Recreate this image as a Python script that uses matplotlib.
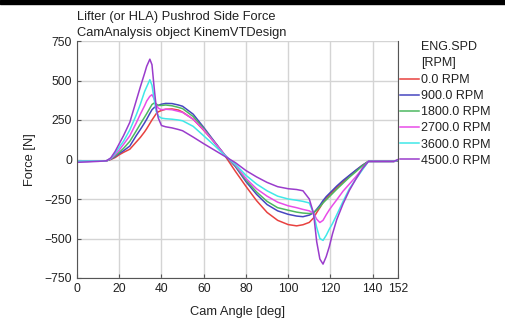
import matplotlib
matplotlib.use("Agg")
import matplotlib.pyplot as plt
from matplotlib.patches import Rectangle

plt.rcParams['font.family'] = ['Liberation Sans', 'DejaVu Sans']

# cam angle grid [deg]
angle = [0, 5, 10, 14, 16, 18, 20, 22, 25, 28,
         30, 32, 33, 34.5, 35.5, 36.5, 37.5, 38.5, 40, 42,
         45, 48, 50, 55, 60, 65, 70, 75, 80, 85,
         90, 95, 100, 104, 107, 110, 112, 113.5, 115, 116.5,
         118, 119.5, 121, 123, 126, 129, 132, 135, 138, 145,
         150, 152]

rpm_0 = [-10, -10, -10, -8, 0, 12, 30, 45, 65, 110,
         140, 175, 195, 228, 250, 270, 290, 302, 310, 318,
         320, 313, 300, 255, 185, 110, 25, -75, -170, -260,
         -335, -385, -412, -420, -413, -398, -370, -336, -305, -272,
         -245, -225, -205, -178, -140, -103, -70, -38, -12, -12,
         -12, -10]
rpm_900 = [-12, -12, -10, -8, 2, 18, 38, 55, 85, 150,
           190, 232, 255, 292, 315, 328, 337, 343, 350, 355,
           354, 345, 337, 287, 203, 115, 28, -45, -140, -220,
           -285, -325, -347, -358, -362, -352, -338, -315, -290, -260,
           -235, -215, -195, -168, -132, -100, -68, -38, -12, -12,
           -12, -8]
rpm_1800 = [-10, -10, -10, -8, 3, 22, 45, 70, 115, 180,
            225, 268, 290, 325, 348, 357, 352, 342, 342, 345,
            340, 330, 322, 272, 195, 110, 27, -40, -130, -205,
            -265, -305, -321, -333, -339, -342, -338, -320, -300, -275,
            -255, -235, -215, -188, -150, -112, -78, -42, -12, -12,
            -12, -8]
rpm_2700 = [-10, -10, -10, -8, 5, 30, 60, 95, 150, 230,
            287, 340, 370, 400, 410, 385, 345, 325, 315, 318,
            315, 305, 298, 255, 188, 110, 28, -35, -120, -185,
            -232, -270, -293, -305, -316, -325, -340, -378, -399, -385,
            -350, -318, -290, -255, -200, -155, -110, -60, -12, -12,
            -12, -5]
rpm_3600 = [-10, -10, -10, -8, 8, 40, 78, 115, 187, 280,
            350, 430, 460, 505, 470, 385, 305, 275, 262, 258,
            255, 250, 245, 210, 150, 90, 25, -30, -100, -155,
            -198, -232, -250, -258, -265, -275, -340, -430, -500, -512,
            -480, -440, -405, -350, -265, -185, -125, -68, -12, -12,
            -12, -3]
rpm_4500 = [-18, -15, -12, -8, 10, 50, 100, 150, 235, 370,
            460, 545, 590, 635, 600, 460, 330, 262, 215, 207,
            200, 190, 182, 142, 100, 60, 20, -20, -70, -110,
            -145, -172, -185, -190, -198, -250, -340, -520, -630, -662,
            -615, -550, -470, -380, -280, -195, -125, -60, -12, -12,
            -12, 0]

series = [rpm_0, rpm_900, rpm_1800, rpm_2700, rpm_3600, rpm_4500]
labels = ["0.0 RPM", "900.0 RPM", "1800.0 RPM", "2700.0 RPM", "3600.0 RPM", "4500.0 RPM"]
colors = ["#e8413f", "#4646c0", "#4db860", "#e84de8", "#40e8e8", "#9a3ccc"]

x_ticks = [0, 20, 40, 60, 80, 100, 120, 140, 152]
y_ticks = [-750, -500, -250, 0, 250, 500, 750]

TXT = "#222222"

fig = plt.figure(figsize=(5.05, 3.21), dpi=100)
fig.patches.append(Rectangle((0, 1 - 3.5 / 321), 1, 3.5 / 321, transform=fig.transFigure,
                             color="black", zorder=10))
ax = fig.add_axes([77 / 505, 1 - 278 / 321, (398 - 77) / 505, (278 - 41) / 321])

for vals, lab, c in zip(series, labels, colors):
    ax.plot(angle, vals, color=c, lw=1.1, label=lab)

ax.set_xlim(0, 152)
ax.set_ylim(-750, 750)
ax.set_xticks(x_ticks)
ax.set_yticks(y_ticks)
ax.grid(True, color="#d4d4d4", lw=1.0)
ax.set_axisbelow(True)
ax.tick_params(direction="in", length=3, color="#555555", labelsize=8.7, labelcolor=TXT)
for s in ("left", "bottom", "right"):
    ax.spines[s].set_color("#555555")
ax.spines["top"].set_visible(False)

ax.set_xlabel("Cam Angle [deg]", fontsize=9.3, color=TXT, labelpad=8)
ax.set_ylabel("Force [N]", fontsize=9.3, color=TXT, labelpad=6)

fig.text(77 / 505, 1 - 17 / 321, "Lifter (or HLA) Pushrod Side Force", fontsize=9.3,
         color=TXT, va="center", ha="left")
fig.text(77 / 505, 1 - 33 / 321, "CamAnalysis object KinemVTDesign", fontsize=9.3,
         color=TXT, va="center", ha="left")

# legend title drawn as text, aligned with the entry labels
fig.text(421 / 505, 1 - 47 / 321, "ENG.SPD", fontsize=9, color=TXT, va="center", ha="left")
fig.text(421 / 505, 1 - 63 / 321, "[RPM]", fontsize=9, color=TXT, va="center", ha="left")

leg = ax.legend(loc="upper left", bbox_to_anchor=(400 / 505, 1 - 74 / 321),
                bbox_transform=fig.transFigure, frameon=False, fontsize=9,
                handlelength=1.5, handletextpad=0.15, labelspacing=0.33,
                borderaxespad=0, borderpad=0)
for t in leg.get_texts():
    t.set_color(TXT)

fig.savefig("out.png", dpi=100)
